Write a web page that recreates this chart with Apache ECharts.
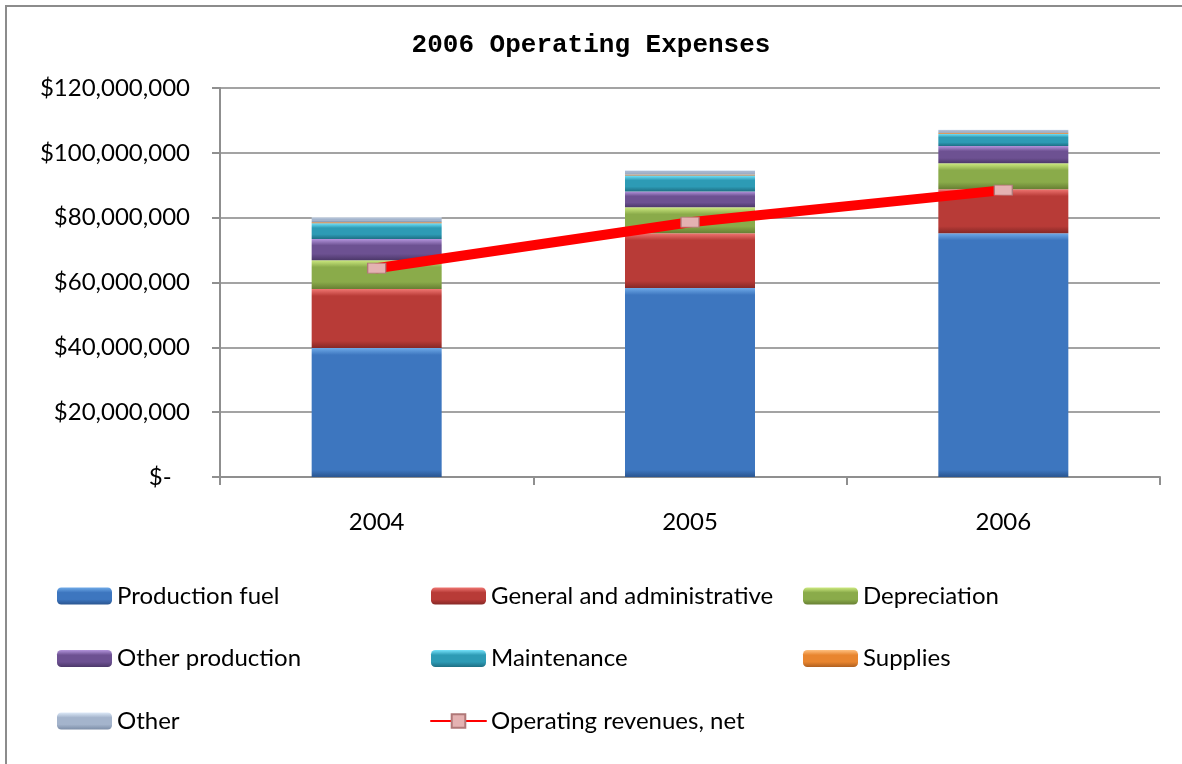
<!DOCTYPE html>
<html>
<head>
<meta charset="utf-8">
<script src="https://cdn.jsdelivr.net/npm/echarts@6/dist/echarts.min.js"></script>
<style>
html,body{margin:0;padding:0;background:#fff;}
#chart{width:1182px;height:764px;}
</style>
</head>
<body>
<div id="chart"></div>
<script>
// ---- data ----
const categories = ['2004', '2005', '2006'];
const productionFuel = [39800000, 58300000, 75200000];
const generalAdmin = [18200000, 16900000, 13600000];
const depreciation = [8900000, 8000000, 8000000];
const otherProduction = [6500000, 4900000, 5300000];
const maintenance = [4900000, 4900000, 3800000];
const supplies = [300000, 300000, 300000];
const other = [1500000, 1300000, 900000];
const operatingRevenues = [64400000, 78600000, 88500000];
const yTicks = [0, 20000000, 40000000, 60000000, 80000000, 100000000, 120000000];

const chart = echarts.init(document.getElementById('chart'));

const PLOT_H = 389; // grid height in px, used only for bevel styling
const Y_MAX = yTicks[yTicks.length - 1];

function bevel(light, mid, dark, px) {
  const o = Math.min(0.3, 7 / Math.max(px, 1));
  return new echarts.graphic.LinearGradient(0, 0, 0, 1, [
    { offset: 0, color: light },
    { offset: o, color: mid },
    { offset: 1 - o, color: mid },
    { offset: 1, color: dark }
  ]);
}

const FONT = 'Lato';
function barSeries(name, data, light, mid, dark) {
  return {
    name: name, type: 'bar', stack: 'exp', barWidth: 130,
    data: data.map(function (v) {
      return { value: v, itemStyle: { color: bevel(light, mid, dark, v / Y_MAX * PLOT_H) } };
    }),
    itemStyle: { color: bevel(light, mid, dark, 17) },
    emphasis: { disabled: true }
  };
}

const legendText = { fontFamily: FONT, fontSize: 24, color: '#000', lineHeight: 22 };
const legendCommon = {
  orient: 'vertical', itemWidth: 55, itemHeight: 17, itemGap: 38.5,
  textStyle: legendText, selectedMode: false, padding: 0
};

const option = {
  animation: false,
  backgroundColor: '#fff',
  title: {
    text: '2006 Operating Expenses', left: 'center', top: 27,
    textStyle: { fontFamily: 'Liberation Mono', fontWeight: 'bold', fontSize: 26, color: '#000' }
  },
  graphic: [{
    type: 'polyline', shape: { points: [[6, 900], [6, 6], [1400, 6]] },
    style: { fill: 'none', stroke: '#8c8c8c', lineWidth: 2 }, silent: true
  }],
  grid: { left: 220, right: 22, top: 88, bottom: 287 },
  legend: [
    Object.assign({ left: 57, top: 584, data: ['Production fuel', 'Other production', 'Other'] }, legendCommon),
    Object.assign({ left: 430, top: 584, data: ['General and administrative', 'Maintenance', 'Operating revenues, net'] }, legendCommon),
    Object.assign({ left: 803, top: 584, data: ['Depreciation', 'Supplies'] }, legendCommon)
  ],
  xAxis: {
    type: 'category', data: categories,
    axisLine: { lineStyle: { color: '#8f8f8f', width: 2 } },
    axisTick: { show: true, alignWithLabel: false, length: 8, lineStyle: { color: '#8f8f8f', width: 2 } },
    axisLabel: { fontFamily: FONT, fontSize: 24, color: '#000', margin: 33 }
  },
  yAxis: {
    type: 'value', min: yTicks[0], max: Y_MAX, interval: yTicks[1] - yTicks[0],
    axisLine: { show: true, lineStyle: { color: '#8f8f8f', width: 2 } },
    axisTick: { show: true, length: 8, lineStyle: { color: '#8f8f8f', width: 2 } },
    splitLine: { lineStyle: { color: '#a3a3a3', width: 2 } },
    axisLabel: {
      fontFamily: FONT, fontSize: 24, color: '#000', margin: 30,
      formatter: function (v) {
        if (v === 0) return '$-   ';
        return '$' + v.toLocaleString('en-US');
      }
    }
  },
  series: [
    barSeries('Production fuel', productionFuel, '#6faae8', '#3d76bf', '#2a5590'),
    barSeries('General and administrative', generalAdmin, '#f07672', '#b83b37', '#862826'),
    barSeries('Depreciation', depreciation, '#cdea80', '#8aab4a', '#677f33'),
    barSeries('Other production', otherProduction, '#b394dc', '#6d5192', '#4c386a'),
    barSeries('Maintenance', maintenance, '#74e2fa', '#2d9bb5', '#1e6f84'),
    barSeries('Supplies', supplies, '#ffc080', '#e8852f', '#b06020'),
    barSeries('Other', other, '#dde9f8', '#a4b4cc', '#7d8ea8'),
    {
      name: 'Operating revenues, net', type: 'line', data: operatingRevenues, z: 10,
      lineStyle: { color: '#ff0000', width: 10, cap: 'round' },
      itemStyle: { color: '#e4b2b2', borderColor: '#b07878', borderWidth: 1 },
      symbol: 'rect', symbolSize: [18, 10], showSymbol: true,
      emphasis: { disabled: true }
    }
  ]
};
chart.setOption(option);
</script>
</body>
</html>
